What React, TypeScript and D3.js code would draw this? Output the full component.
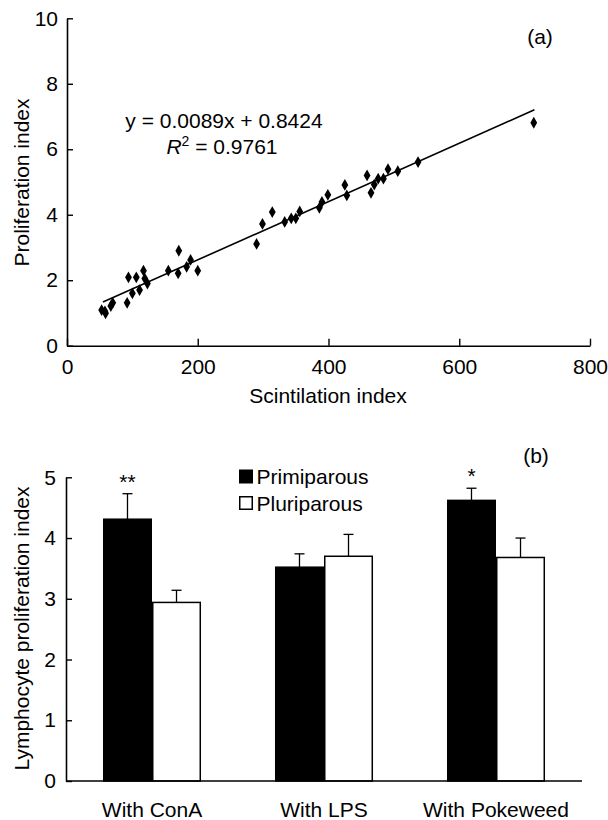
import React, { useEffect, useRef } from 'react';
import * as d3 from 'd3';

// panel (a): scintillation index vs proliferation index
const scintX = [53, 58, 59, 67, 70, 92, 94, 100, 106, 111, 117, 119, 123, 155, 170, 171, 183, 189, 200,
  290, 299, 314, 333, 343, 350, 356, 386, 390, 399, 425, 428, 459, 465, 470, 476, 484, 491, 506, 537, 714];
const prolifY = [1.09, 1.05, 0.99, 1.21, 1.31, 1.31, 2.09, 1.6, 2.09, 1.7, 2.29, 2.05, 1.9, 2.29, 2.21, 2.9, 2.41, 2.62, 2.29,
  3.11, 3.72, 4.08, 3.78, 3.89, 3.89, 4.1, 4.21, 4.39, 4.61, 4.91, 4.59, 5.2, 4.67, 4.92, 5.1, 5.1, 5.39, 5.33, 5.61, 6.81];
const slope = 0.0089;
const intercept = 0.8424;
const fitRange = [55, 715];

// panel (b): lymphocyte proliferation index
const treatments = ['With ConA', 'With LPS', 'With Pokeweed'];
const groups = ['Primiparous', 'Pluriparous'];
const primMean = [4.31, 3.52, 4.62];
const primErr = [0.42, 0.22, 0.2];
const pluriMean = [2.94, 3.7, 3.68];
const pluriErr = [0.2, 0.36, 0.32];
const signif = ['**', '', '*'];

const font = '"Liberation Sans", Arial, Helvetica, sans-serif';
const fs = 21;

export default function App() {
  const node = useRef<SVGSVGElement>(null);

  useEffect(() => {
    const svg = d3.select(node.current)
      .attr('font-family', font)
      .attr('font-size', fs);
    svg.selectAll('*').remove();

    // ---------- (a) ----------
    const xA = d3.scaleLinear().domain([0, 800]).range([67, 590]);
    const yA = d3.scaleLinear().domain([0, 10]).range([345.7, 18.3]);

    const gA = svg.append('g');
    const axA = gA.append('g')
      .attr('transform', 'translate(0,' + yA(0) + ')')
      .call(d3.axisBottom(xA).tickValues([0, 200, 400, 600, 800]).tickSizeInner(-7).tickSizeOuter(0).tickPadding(13));
    const ayA = gA.append('g')
      .attr('transform', 'translate(' + xA(0) + ',0)')
      .call(d3.axisLeft(yA).tickValues([0, 2, 4, 6, 8, 10]).tickSizeInner(-6).tickSizeOuter(0).tickPadding(9));

    const line = d3.line<number>().x(d => xA(d)).y(d => yA(slope * d + intercept));
    gA.append('path')
      .datum(fitRange)
      .attr('d', line)
      .attr('fill', 'none')
      .attr('stroke', '#000')
      .attr('stroke-width', 1.6);

    const diamond = d3.symbol().type(d3.symbolDiamond).size(40);
    gA.append('g')
      .selectAll('path')
      .data(scintX)
      .enter()
      .append('path')
      .attr('d', diamond)
      .attr('transform', (d, i) => 'translate(' + xA(d) + ',' + yA(prolifY[i]) + ')')
      .attr('fill', '#000');

    gA.append('text').attr('x', 224).attr('y', 128).attr('text-anchor', 'middle')
      .text('y = 0.0089x + 0.8424');
    const r2 = gA.append('text').attr('x', 222).attr('y', 154).attr('text-anchor', 'middle');
    r2.append('tspan').attr('font-style', 'italic').text('R');
    r2.append('tspan').attr('dy', -8).attr('font-size', 14).text('2');
    r2.append('tspan').attr('dy', 8).text(' = 0.9761');
    gA.append('text').attr('x', 540).attr('y', 44).attr('text-anchor', 'middle').text('(a)');
    gA.append('text').attr('x', 328).attr('y', 403).attr('text-anchor', 'middle').text('Scintilation index');
    gA.append('text').attr('transform', 'translate(29,182.5) rotate(-90)').attr('text-anchor', 'middle')
      .text('Proliferation index');

    // ---------- (b) ----------
    const xB = d3.scaleBand().domain(treatments).range([66, 582]).paddingInner(0.43).paddingOuter(0.215);
    const xSub = d3.scaleBand().domain(groups).range([0, xB.bandwidth()]);
    const yB = d3.scaleLinear().domain([0, 5]).range([781, 477.3]);

    const gB = svg.append('g');
    const ayB = gB.append('g')
      .attr('transform', 'translate(66,0)')
      .call(d3.axisLeft(yB).ticks(5).tickSizeInner(-6).tickSizeOuter(0).tickPadding(10));

    const bars = [
      { key: groups[0], mean: primMean, err: primErr, fill: '#000' },
      { key: groups[1], mean: pluriMean, err: pluriErr, fill: '#fff' },
    ];
    bars.forEach(s => {
      const g = gB.append('g');
      treatments.forEach((t, i) => {
        const x0 = (xB(t) as number) + (xSub(s.key) as number);
        const w = xSub.bandwidth();
        const cx = x0 + w / 2;
        g.append('line')
          .attr('x1', cx).attr('x2', cx)
          .attr('y1', yB(s.mean[i])).attr('y2', yB(s.mean[i] + s.err[i]))
          .attr('stroke', '#000').attr('stroke-width', 1.3);
        g.append('line')
          .attr('x1', cx - 5).attr('x2', cx + 5)
          .attr('y1', yB(s.mean[i] + s.err[i])).attr('y2', yB(s.mean[i] + s.err[i]))
          .attr('stroke', '#000').attr('stroke-width', 1.3);
        g.append('rect')
          .attr('x', x0 + 0.75).attr('y', yB(s.mean[i]))
          .attr('width', w - 1.5).attr('height', yB(0) - yB(s.mean[i]))
          .attr('fill', s.fill).attr('stroke', '#000').attr('stroke-width', 1.5);
      });
    });

    gB.append('line').attr('x1', 66).attr('x2', 582).attr('y1', yB(0)).attr('y2', yB(0))
      .attr('stroke', '#000').attr('stroke-width', 1.6);

    treatments.forEach((t, i) => {
      const cx = (xB(t) as number) + xB.bandwidth() / 2;
      gB.append('text').attr('x', cx).attr('y', 817).attr('text-anchor', 'middle').text(t);
      if (signif[i]) {
        const px = (xB(t) as number) + (xSub(groups[0]) as number) + xSub.bandwidth() / 2;
        gB.append('text').attr('x', px).attr('y', yB(primMean[i] + primErr[i]) - 5)
          .attr('text-anchor', 'middle').text(signif[i]);
      }
    });

    // legend
    const lg = gB.append('g').attr('transform', 'translate(239,469.5)');
    groups.forEach((k, i) => {
      lg.append('rect').attr('x', 0.75).attr('y', i * 26.5 + 0.75).attr('width', 12.5).attr('height', 12.5)
        .attr('fill', i === 0 ? '#000' : '#fff').attr('stroke', '#000').attr('stroke-width', 1.5);
      lg.append('text').attr('x', 17.5).attr('y', i * 26.5 + 14.5).text(k);
    });

    gB.append('text').attr('x', 536).attr('y', 463).attr('text-anchor', 'middle').text('(b)');
    gB.append('text').attr('transform', 'translate(29,628.5) rotate(-90)').attr('text-anchor', 'middle')
      .text('Lymphocyte proliferation index');

    [axA, ayA, ayB].forEach(a => {
      a.attr('font-family', font).attr('font-size', fs);
      a.select('.domain').attr('stroke-width', 1.6);
      a.selectAll('.tick line').attr('stroke-width', 1.4);
      a.selectAll('text').attr('fill', '#000');
    });
  }, []);

  return (
    <svg ref={node} width={608} height={820}
      style={{ position: 'absolute', left: 0, top: 0, background: '#fff' }} />
  );
}
